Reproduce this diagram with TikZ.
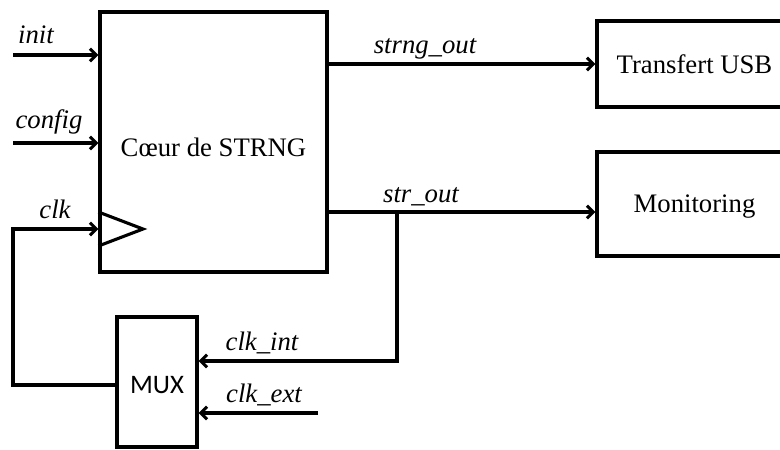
\documentclass[tikz,border=0pt]{standalone}
\usepackage{fontspec}
\setmainfont{Liberation Serif}
\newfontfamily\muxfont{Carlito}
\usetikzlibrary{arrows.meta}

\tikzset{
    blk/.style={draw, rectangle, inner sep=0pt, text depth=0pt},
    sig/.style={font=\fontsize{19}{22}\selectfont\itshape, anchor=base, inner sep=0pt},
}

\begin{document}
\begin{tikzpicture}[x=0.025cm, y=-0.025cm, line width=2.2pt,
    >={Straight Barb[length=4.5pt, width=9pt]},
    font=\fontsize{19}{22}\selectfont]
                \useasboundingbox (0,0) rectangle (780,449);

                % Nodes
                \node[blk, minimum width=5.675cm, minimum height=6.5cm, text height=21pt] (core) at (213.5,142) {Cœur de STRNG};
                \node[blk, minimum width=4.875cm, minimum height=2.15cm, text height=14pt] (usb) at (694.5,64) {Transfert USB};
                \node[blk, minimum width=4.875cm, minimum height=2.6cm, text height=12pt] (mon) at (694.5,204) {Monitoring};
                \node[blk, minimum width=2cm, minimum height=3.25cm, text height=16pt, font=\muxfont\fontsize{19}{22}\selectfont] (mux) at (157,382) {MUX};

                \node[sig] (init) at (36,43) {init};
                \node[sig] (config) at (49,128) {config};
                \node[sig] (clk) at (55,218) {clk};
                \node[sig] (strng) at (425,53) {strng\_out};
                \node[sig] (str) at (421,202) {str\_out};
                \node[sig] (clkint) at (262,350) {clk\_int};
                \node[sig] (clkext) at (264,402) {clk\_ext};

                \coordinate (initin) at (13,55);
                \coordinate (configin) at (13,143);
                \coordinate (clkin) at (13,229);
                \coordinate (strout) at (397,212);
                \coordinate (extin) at (318,413);

                % Edges
                \draw[->] (initin) -- (initin -| core.west);
                \draw[->] (configin) -- (configin -| core.west);
                \draw[->] (core.east |- usb.west) -- (usb.west);
                \draw[->] (core.east |- strout) -- (strout -| mon.west);
                \draw[->] (strout) |- (mux.east |- 0,361);
                \draw[->] (extin) -- (extin -| mux.east);
                \draw[->] (mux.west |- 0,385) -| (clkin) -- (clkin -| core.west);

                % Clock input
                \draw[line join=miter] (core.west |- 0,212) -- (143,229) -- (core.west |- 0,246);
            \end{tikzpicture}
\end{document}
